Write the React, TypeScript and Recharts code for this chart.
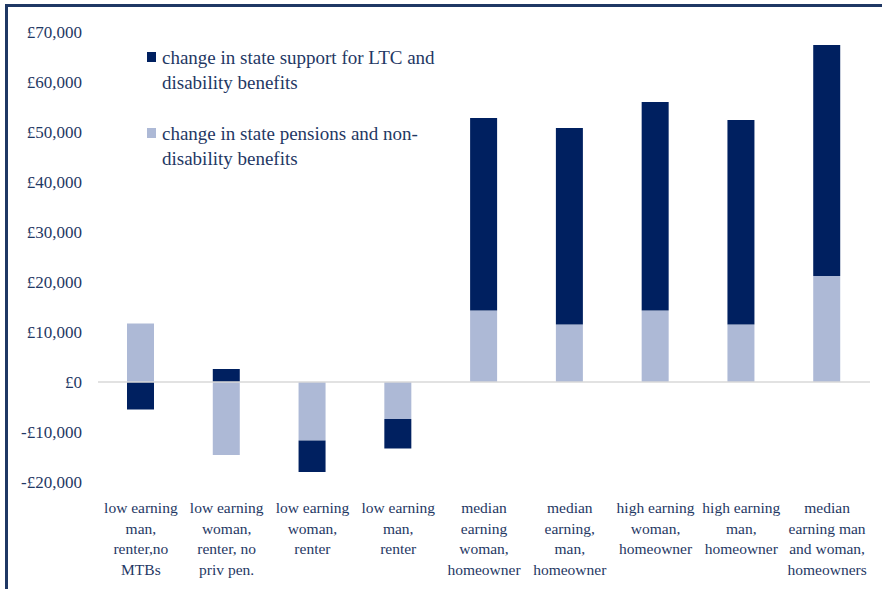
import React from 'react';
import {
  BarChart,
  Bar,
  XAxis,
  YAxis,
  Legend,
  ReferenceLine,
} from 'recharts';

const categories = [
  'low earning man, renter,no MTBs',
  'low earning woman, renter, no priv pen.',
  'low earning woman, renter',
  'low earning man, renter',
  'median earning woman, homeowner',
  'median earning, man, homeowner',
  'high earning woman, homeowner',
  'high earning man, homeowner',
  'median earning man and woman, homeowners',
];

// how each category label is broken over lines
const categoryLines = [
  ['low earning', 'man,', 'renter,no', 'MTBs'],
  ['low earning', 'woman,', 'renter, no', 'priv pen.'],
  ['low earning', 'woman,', 'renter'],
  ['low earning', 'man,', 'renter'],
  ['median', 'earning', 'woman,', 'homeowner'],
  ['median', 'earning,', 'man,', 'homeowner'],
  ['high earning', 'woman,', 'homeowner'],
  ['high earning', 'man,', 'homeowner'],
  ['median', 'earning man', 'and woman,', 'homeowners'],
];

const pensionChange = [11700, -14600, -11700, -7400, 14300, 11500, 14300, 11500, 21200];
const ltcChange = [-5500, 2600, -6300, -5900, 38500, 39300, 41700, 40900, 46200];

const yTicks = [-20000, -10000, 0, 10000, 20000, 30000, 40000, 50000, 60000, 70000];

const ltcName = 'change in state support for LTC and disability benefits';
const pensionName = 'change in state pensions and non-disability benefits';
const legendLines: Record<string, string[]> = {
  ltc: ['change in state support for LTC and', 'disability benefits'],
  pension: ['change in state pensions and non-', 'disability benefits'],
};

const data = categories.map((name, i) => ({
  name,
  pension: pensionChange[i],
  ltc: ltcChange[i],
}));

const NAVY = '#002060';
const LIGHT = '#ADB9D6';
const TEXT = '#1F3864';
const FONT = '"Liberation Serif", "DejaVu Serif", serif';

const fmt = (v: number) => {
  const s = Math.abs(v)
    .toString()
    .replace(/\B(?=(\d{3})+(?!\d))/g, ',');
  return v < 0 ? `-£${s}` : `£${s}`;
};

const CategoryTick = (props: any) => {
  const { x, y, payload } = props;
  const idx = categories.indexOf(payload.value);
  const lines = categoryLines[idx] || [payload.value];
  return (
    <text
      x={x}
      y={y + 29}
      textAnchor="middle"
      fill={TEXT}
      fontFamily={FONT}
      fontSize={15.5}
    >
      {lines.map((l, i) => (
        <tspan key={i} x={x} dy={i === 0 ? 0 : 20.7}>
          {l}
        </tspan>
      ))}
    </text>
  );
};

const ValueTick = (props: any) => {
  const { x, y, payload } = props;
  return (
    <text
      x={x}
      y={y + 6}
      textAnchor="end"
      fill={TEXT}
      fontFamily={FONT}
      fontSize={17}
    >
      {fmt(payload.value)}
    </text>
  );
};

const LegendBox = (props: any) => {
  const items = [...(props.payload || [])].reverse();
  return (
    <div style={{ fontFamily: FONT, fontSize: 19, color: TEXT }}>
      {items.map((it: any) => (
        <div
          key={it.dataKey}
          style={{ display: 'flex', alignItems: 'flex-start', marginBottom: 26 }}
        >
          <div
            style={{
              width: 9,
              height: 10,
              background: it.color,
              marginTop: 7,
              marginRight: 6,
              flexShrink: 0,
            }}
          />
          <div style={{ lineHeight: '25px' }}>
            {(legendLines[it.dataKey] || [it.value]).map((l, i) => (
              <div key={i} style={{ whiteSpace: 'nowrap' }}>
                {l}
              </div>
            ))}
          </div>
        </div>
      ))}
    </div>
  );
};

export default function App() {
  return (
    <div
      style={{
        position: 'absolute',
        left: 0,
        top: 0,
        width: 882,
        height: 589,
        overflow: 'hidden',
        background: '#fff',
      }}
    >
      <div
        style={{
          position: 'absolute',
          left: 5,
          top: 4,
          width: 900,
          height: 620,
          borderTop: `3px solid ${TEXT}`,
          borderLeft: `3px solid ${TEXT}`,
        }}
      />
      <BarChart
        width={882}
        height={589}
        data={data}
        stackOffset="sign"
        barSize={27}
        margin={{ top: 32, right: 12, bottom: 0, left: 0 }}
        style={{ position: 'absolute', left: 0, top: 0 }}
      >
        <YAxis
          domain={[-20000, 70000]}
          ticks={yTicks}
          width={98}
          axisLine={false}
          tickLine={false}
          tickSize={0}
          tickMargin={16}
          tick={<ValueTick />}
          interval={0}
        />
        <XAxis
          dataKey="name"
          axisLine={false}
          tickLine={false}
          tickSize={0}
          interval={0}
          tick={<CategoryTick />}
          height={107}
        />
        <ReferenceLine y={0} stroke="#D9D9D9" strokeWidth={1.5} />
        <Bar
          dataKey="pension"
          name={pensionName}
          stackId="a"
          fill={LIGHT}
          isAnimationActive={false}
        />
        <Bar
          dataKey="ltc"
          name={ltcName}
          stackId="a"
          fill={NAVY}
          isAnimationActive={false}
        />
        <Legend
          layout="vertical"
          align="center"
          verticalAlign="middle"
          content={<LegendBox />}
          wrapperStyle={{ top: 45, left: 147, width: 340 }}
        />
      </BarChart>
    </div>
  );
}
